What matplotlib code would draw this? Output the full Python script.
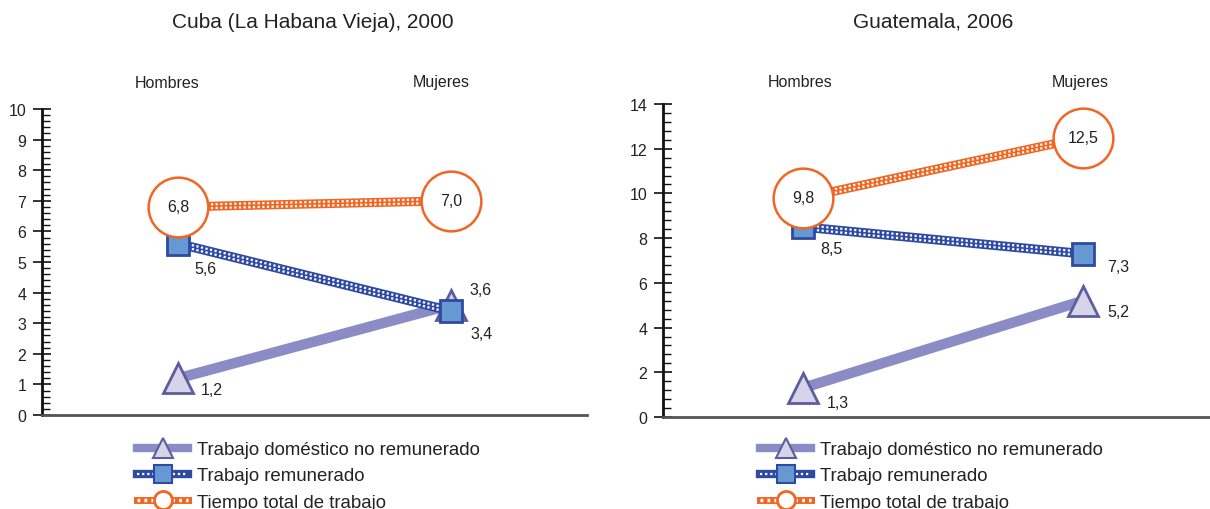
import matplotlib
matplotlib.use("Agg")
import matplotlib.pyplot as plt
from matplotlib.lines import Line2D
from matplotlib.legend_handler import HandlerTuple
from matplotlib.ticker import MultipleLocator
from matplotlib.transforms import offset_copy

plt.rcParams['font.family'] = ['Liberation Sans', 'DejaVu Sans']

groups = ["Hombres", "Mujeres"]
series_names = ["Trabajo doméstico no remunerado", "Trabajo remunerado", "Tiempo total de trabajo"]

cuba_domestico = [1.2, 3.6]
cuba_remunerado = [5.6, 3.4]
cuba_total = [6.8, 7.0]

guat_domestico = [1.3, 5.2]
guat_remunerado = [8.5, 7.3]
guat_total = [9.8, 12.5]

titles = ["Cuba (La Habana Vieja), 2000", "Guatemala, 2006"]

C_DOM = "#8b8cc5"
C_DOM_FILL = "#d7d4ea"
C_DOM_EDGE = "#5c5d9f"
C_PAID = "#2f4aa3"
C_PAID_FILL = "#6699d2"
C_TOT = "#f26522"
TXT = "#222222"

W, H = 1210, 510
fig = plt.figure(figsize=(W / 100, H / 100), dpi=100)

def fmt(v):
    return f"{v:.1f}".replace(".", ",")

def dotted_band(ax, x, y, color, lw, z):
    ax.plot(x, y, color=color, lw=lw, solid_capstyle='butt', zorder=z)
    for dy in (-1.9, 1.9):
        tr = offset_copy(ax.transData, fig=fig, x=0, y=dy, units='dots')
        ax.plot(x, y, color="white", lw=1.6, ls=(0, (1, 1.1)), transform=tr, zorder=z + 0.1)

def panel(rect, dom, paid, tot, ymax, major, minor, offs, hdr_dy):
    ax = fig.add_axes(rect)
    x = list(range(len(groups)))
    ax.set_xlim(-0.5, 1.5)
    ax.set_ylim(0, ymax)
    # lines
    ax.plot(x, dom, color=C_DOM, lw=7.5, solid_capstyle='butt', zorder=2)
    dotted_band(ax, x, paid, C_PAID, 6.8, 3)
    dotted_band(ax, x, tot, C_TOT, 6.5, 4)
    # markers
    ax.plot(x, dom, ls='none', marker='^', ms=21, mfc=C_DOM_FILL, mec=C_DOM_EDGE, mew=2, zorder=5)
    ax.plot(x, paid, ls='none', marker='s', ms=16, mfc=C_PAID_FILL, mec=C_PAID, mew=2, zorder=6)
    ax.plot(x, tot, ls='none', marker='o', ms=43, mfc="white", mec=C_TOT, mew=1.8, zorder=7)
    # labels
    for i in x:
        ax.text(i, tot[i], fmt(tot[i]), ha='center', va='center', fontsize=11.5, color=TXT, zorder=8)
        ax.annotate(fmt(paid[i]), (i, paid[i]), xytext=offs['paid'][i], textcoords='offset pixels',
                    ha='center', va='center', fontsize=11.5, color=TXT, zorder=8)
        ax.annotate(fmt(dom[i]), (i, dom[i]), xytext=offs['dom'][i], textcoords='offset pixels',
                    ha='center', va='center', fontsize=11.5, color=TXT, zorder=8)
        ax.annotate(groups[i], (i, 1), xycoords=('data', 'axes fraction'),
                    xytext=(offs['hdr'][i], hdr_dy), textcoords='offset pixels',
                    ha='center', va='center', fontsize=11.5, color=TXT, annotation_clip=False)
    ax.yaxis.set_major_locator(MultipleLocator(major))
    ax.yaxis.set_minor_locator(MultipleLocator(minor))
    ax.set_xticks([])
    for s in ['top', 'right']:
        ax.spines[s].set_visible(False)
    ax.spines['left'].set_linewidth(2)
    ax.spines['left'].set_color("#111111")
    ax.spines['bottom'].set_linewidth(2)
    ax.spines['bottom'].set_color("#555555")
    ax.tick_params(axis='y', which='major', direction='inout', length=12.5, width=1.2,
                   color="#111111", labelsize=11.5, labelcolor=TXT, pad=5)
    ax.tick_params(axis='y', which='minor', direction='in', length=6, width=1, color="#111111")
    ax.patch.set_alpha(0)
    return ax

ax1 = panel([42 / W, 94 / H, 545 / W, 306 / H], cuba_domestico, cuba_remunerado, cuba_total,
            10, 1, 0.2,
            {'paid': [(27, -25), (31, -23)], 'dom': [(33, -11), (30, 15)], 'hdr': [-11, -9]}, 27)
ax2 = panel([663 / W, 92 / H, 560 / W, 313 / H], guat_domestico, guat_remunerado, guat_total,
            14, 2, 0.4,
            {'paid': [(28, -22), (35, -13)], 'dom': [(35, -15), (35, -11)], 'hdr': [-3, -3]}, 22)

fig.text(313 / W, 1 - 22 / H, titles[0], ha='center', va='center', fontsize=15, color=TXT)
fig.text(933 / W, 1 - 22 / H, titles[1], ha='center', va='center', fontsize=15, color=TXT)

def legend_handles():
    h_dom = (Line2D([], [], color=C_DOM, lw=6),
             Line2D([], [], ls='none', marker='^', ms=14, mfc=C_DOM_FILL, mec=C_DOM_EDGE, mew=1.5))
    h_paid = (Line2D([], [], color=C_PAID, lw=6),
              Line2D([], [], color='white', lw=1.6, ls=(0, (1, 1.3))),
              Line2D([], [], ls='none', marker='s', ms=13, mfc=C_PAID_FILL, mec=C_PAID, mew=1.5))
    h_tot = (Line2D([], [], color=C_TOT, lw=5),
             Line2D([], [], color='white', lw=2.5, ls=(0, (0.8, 1.2))),
             Line2D([], [], ls='none', marker='o', ms=13, mfc='white', mec=C_TOT, mew=2))
    return [h_dom, h_paid, h_tot]

for xpx in (137, 760):
    fig.legend(legend_handles(), series_names, loc='upper left',
               bbox_to_anchor=(xpx / W, 1 - 442 / H), frameon=False, fontsize=13.4,
               handlelength=2.75, handletextpad=0.5, labelspacing=0.5, borderpad=0,
               borderaxespad=0, labelcolor=TXT,
               handler_map={tuple: HandlerTuple(ndivide=1)})

fig.savefig("out.png", dpi=100)
